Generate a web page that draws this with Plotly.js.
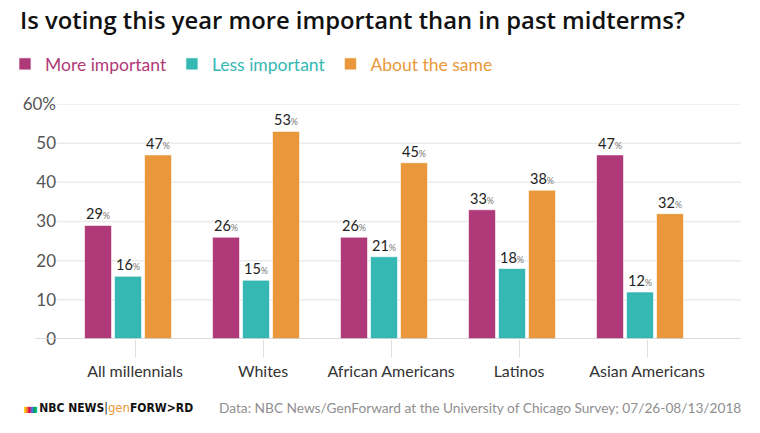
<!DOCTYPE html>
<html><head><meta charset="utf-8">
<script src="https://cdn.plot.ly/plotly-3.0.1.min.js"></script>
<style>html,body{margin:0;padding:0;background:#fff}#chart{width:760px;height:433px}</style>
</head><body><div id="chart"></div>
<script>
const categories = ["All millennials", "Whites", "African Americans", "Latinos", "Asian Americans"];
const moreImportant = [29, 26, 26, 33, 47];
const lessImportant = [16, 15, 21, 18, 12];
const aboutSame = [47, 53, 45, 38, 32];
const seriesNames = ["More important", "Less important", "About the same"];
const colors = ["#b03a79", "#35b8b4", "#e8983a"];
const yTicks = [0, 10, 20, 30, 40, 50, 60];
const yTickText = ["0", "10", "20", "30", "40", "50", "60%"];

const idx = categories.map((c, i) => i);
const FONT = "Lato, 'Open Sans', sans-serif";
const series = [moreImportant, lessImportant, aboutSame];
const traces = series.map((vals, k) => ({
  type: "bar",
  x: idx,
  y: vals,
  name: '<span style="color:' + colors[k] + '">' + seriesNames[k] + '</span>',
  marker: {color: colors[k], line: {color: "rgba(255,255,255,0.6)", width: 1}},
  texttemplate: '%{y}<span style="font-size:9px;color:#777">%</span>',
  textposition: "outside",
  cliponaxis: false,
  textfont: {family: FONT, size: 14.5, color: "#222"},
  hoverinfo: "skip"
}));

const gridShapes = yTicks.filter(v => v > 0).map(v => ({
  type: "line", xref: "paper", yref: "y", x0: 0, x1: 1, y0: v, y1: v,
  line: {color: "#ebebeb", width: 1.5}, layer: "below"
}));
gridShapes.push({type: "line", xref: "paper", yref: "y", x0: -22/684, x1: 1, y0: 0, y1: 0,
  line: {color: "#d0d0d0", width: 1.5}, layer: "above"});

const peacock = ["#fcb711", "#f37021", "#cc004c", "#6460aa", "#0089d0", "#0db14b"]
  .map(c => '<span style="color:' + c + '">▮</span>').join("");

const footY = (339 - 407) / 235;
const layout = {
  width: 760, height: 433,
  margin: {l: 57, r: 19, t: 104, b: 94},
  paper_bgcolor: "#fff", plot_bgcolor: "#fff",
  font: {family: FONT, color: "#444"},
  title: {
    text: "Is voting this year more important than in past midterms?",
    x: 20/760, xanchor: "left", xref: "container",
    y: 1 - 12/433, yanchor: "top", yref: "container",
    font: {family: "'Open Sans', sans-serif", size: 23.8, weight: 600, color: "#111"}
  },
  showlegend: true,
  legend: {
    orientation: "h", xref: "container", yref: "container",
    x: 5/760, xanchor: "left", y: 1 - 46/433, yanchor: "top",
    font: {family: FONT, size: 17.5}, itemwidth: 30, traceorder: "normal",
    bgcolor: "rgba(0,0,0,0)"
  },
  barmode: "group",
  bargap: 0.297,
  bargroupgap: 0.1,
  xaxis: {
    range: [-0.555, 4.789],
    tickvals: idx.map(i => i + 0.055),
    ticktext: categories,
    ticks: "outside", ticklen: 18, tickcolor: "#e0e0e0", tickwidth: 1,
    showgrid: false, zeroline: false, showline: false,
    tickfont: {family: FONT, size: 16, color: "#333"},
    fixedrange: true
  },
  yaxis: {
    range: [0, 60],
    tickvals: yTicks, ticktext: yTickText,
    showgrid: false, zeroline: false, showline: false,
    tickfont: {family: FONT, size: 17, color: "#555"},
    ticks: "", fixedrange: true
  },
  shapes: gridShapes,
  annotations: [
    {xref: "paper", yref: "paper", x: (217 - 57) / 684, y: footY, xanchor: "left", yanchor: "middle",
     showarrow: false, text: "Data: NBC News/GenForward at the University of Chicago Survey; 07/26-08/13/2018",
     font: {family: FONT, size: 13.7, color: "#8f8f8f"}},
    {xref: "paper", yref: "paper", x: (22 - 57) / 684, y: footY, xanchor: "left", yanchor: "middle",
     showarrow: false,
     text: '<span style="font-size:8px;letter-spacing:-2px">' + peacock + '</span> <b style="color:#111">NBC NEWS</b><span style="color:#111">|</span><span style="color:#e8983a;font-size:13px">gen</span><b style="color:#111">FORW&gt;RD</b>',
     font: {family: "'Liberation Sans Narrow', 'DejaVu Sans Condensed', sans-serif", size: 12, color: "#111"}}
  ]
};

Plotly.newPlot("chart", traces, layout, {displayModeBar: false, staticPlot: true});
</script>
</body></html>
